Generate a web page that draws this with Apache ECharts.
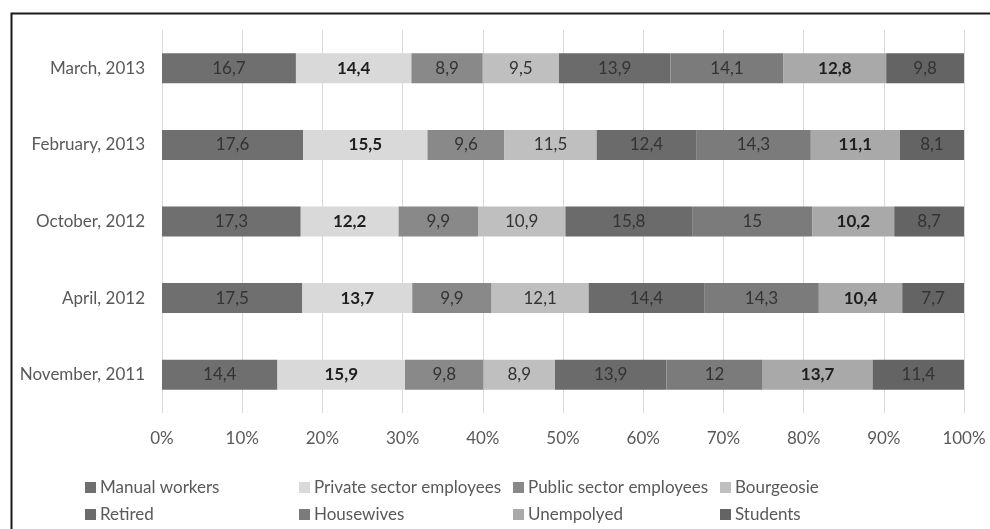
<!DOCTYPE html>
<html>
<head>
<meta charset="utf-8">
<script src="https://cdn.jsdelivr.net/npm/echarts@6/dist/echarts.min.js"></script>
<style>
  html, body { margin: 0; padding: 0; background: #fff; }
  #chart { width: 990px; height: 529px; }
</style>
</head>
<body>
<div id="chart"></div>
<script>
// Survey waves, bottom to top
const categories = ['November, 2011', 'April, 2012', 'October, 2012', 'February, 2013', 'March, 2013'];

// Share of each group per wave (%)
const manualWorkers   = [14.4, 17.5, 17.3, 17.6, 16.7];
const privateSector   = [15.9, 13.7, 12.2, 15.5, 14.4];
const publicSector    = [9.8, 9.9, 9.9, 9.6, 8.9];
const bourgeosie      = [8.9, 12.1, 10.9, 11.5, 9.5];
const retired         = [13.9, 14.4, 15.8, 12.4, 13.9];
const housewives      = [12, 14.3, 15, 14.3, 14.1];
const unemployed      = [13.7, 10.4, 10.2, 11.1, 12.8];
const students        = [11.4, 7.7, 8.7, 8.1, 9.8];

const tickLabels = ['0%', '10%', '20%', '30%', '40%', '50%', '60%', '70%', '80%', '90%', '100%'];

const FONT = 'Lato';

const groups = [
  { name: 'Manual workers',           data: manualWorkers, color: '#6f6f6f', bold: false },
  { name: 'Private sector employees', data: privateSector, color: '#d9d9d9', bold: true },
  { name: 'Public sector employees',  data: publicSector,  color: '#898989', bold: false },
  { name: 'Bourgeosie',               data: bourgeosie,    color: '#bfbfbf', bold: false },
  { name: 'Retired',                  data: retired,       color: '#6b6b6b', bold: false },
  { name: 'Housewives',               data: housewives,    color: '#7b7b7b', bold: false },
  { name: 'Unempolyed',               data: unemployed,    color: '#a9a9a9', bold: true },
  { name: 'Students',                 data: students,      color: '#646464', bold: false }
];

const series = groups.map(g => ({
  name: g.name,
  type: 'bar',
  stack: 'total',
  barWidth: 30,
  data: g.data,
  itemStyle: { color: g.color },
  label: {
    show: true,
    position: 'inside',
    fontFamily: FONT,
    fontSize: 17,
    fontWeight: g.bold ? 'bold' : 'normal',
    color: g.bold ? '#1e1e1e' : '#333333',
    formatter: p => String(p.value).replace('.', ',')
  },
  emphasis: { disabled: true }
}));

// Legend laid out as a 4 x 2 table
const legendCols = [85, 299, 513, 720];
const legendRows = [479, 506];
const legends = groups.map((g, i) => ({
  data: [g.name],
  left: legendCols[i % 4],
  top: legendRows[Math.floor(i / 4)],
  icon: 'rect',
  itemWidth: 11,
  itemHeight: 11,
  itemGap: 0,
  selectedMode: false,
  padding: 0,
  textStyle: { fontFamily: FONT, fontSize: 17, color: '#595959', padding: [0, 0, 0, -1] }
}));

const chart = echarts.init(document.getElementById('chart'), null, { renderer: 'canvas' });
chart.setOption({
  animation: false,
  backgroundColor: '#ffffff',
  graphic: [{
    type: 'rect',
    left: 9, top: 11,
    shape: { width: 1000, height: 600 },
    style: { fill: 'none', stroke: '#1a1a1a', lineWidth: 2 },
    silent: true
  }],
  grid: { left: 162, right: 26, top: 30, bottom: 116, containLabel: false },
  legend: legends,
  xAxis: {
    type: 'value',
    min: 0,
    max: 100,
    interval: 10,
    axisLine: { show: false },
    axisTick: { show: false },
    splitLine: { show: true, lineStyle: { color: '#d9d9d9', width: 1 } },
    axisLabel: {
      margin: 17,
      fontFamily: FONT,
      fontSize: 17,
      color: '#595959',
      formatter: v => tickLabels[Math.round(v / 10)]
    }
  },
  yAxis: {
    type: 'category',
    data: categories,
    axisLine: { show: false },
    axisTick: { show: false },
    axisLabel: {
      margin: 17,
      fontFamily: FONT,
      fontSize: 17,
      color: '#595959'
    }
  },
  series: series
});
</script>
</body>
</html>
